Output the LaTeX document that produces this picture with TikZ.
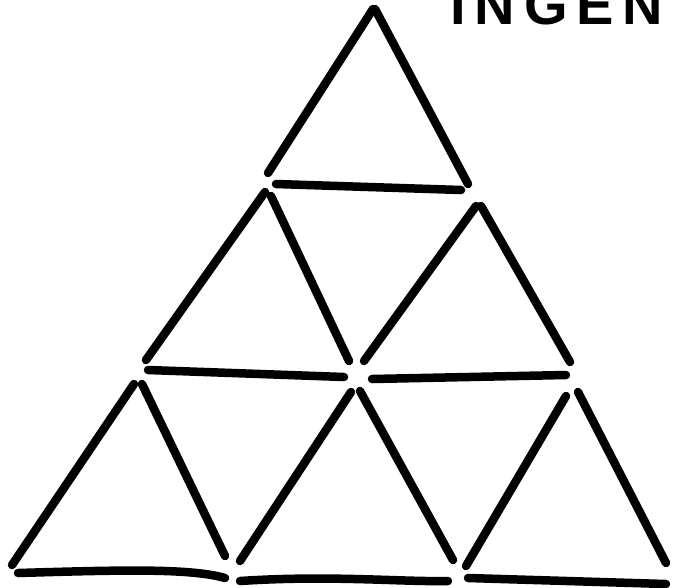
\documentclass[tikz,border=0pt]{standalone}
\usepackage{fontspec}
\setmainfont{Liberation Sans}
\begin{document}
\begin{tikzpicture}[x=1pt,y=-1pt,
  stick/.style={line width=8.5pt,line cap=round,black}]
\useasboundingbox (0,0) rectangle (679,587);
% text, top cut off as in the reference
\node[anchor=base west,inner sep=0pt,font=\fontsize{56}{56}\selectfont\bfseries\addfontfeature{LetterSpace=16}] (t) at (450,24) {INGEN};
% top triangle
\draw[stick] (373,9) -- (268,173);
\draw[stick] (375,9) -- (468,184);
\draw[stick] (276,184) -- (461,190);
% middle row
\draw[stick] (265,192) -- (146,360);
\draw[stick] (271,196) -- (349,361);
\draw[stick] (476,206) -- (364,361);
\draw[stick] (481,206) -- (570,362);
\draw[stick] (148,370) -- (344,377);
\draw[stick] (372,379) -- (566,375);
% bottom row
\draw[stick] (134,384) -- (12,565);
\draw[stick] (142,384) -- (225,556);
\draw[stick] (351,392) -- (240,561);
\draw[stick] (360,391) -- (453,560);
\draw[stick] (566,396) -- (466,566);
\draw[stick] (578,392) -- (666,563);
\draw[stick] (18,573) .. controls (120,570) and (190,568) .. (225,578);
\draw[stick] (240,581) .. controls (330,575) and (400,582) .. (448,581);
\draw[stick] (468,578) -- (666,584);
\end{tikzpicture}
\end{document}
